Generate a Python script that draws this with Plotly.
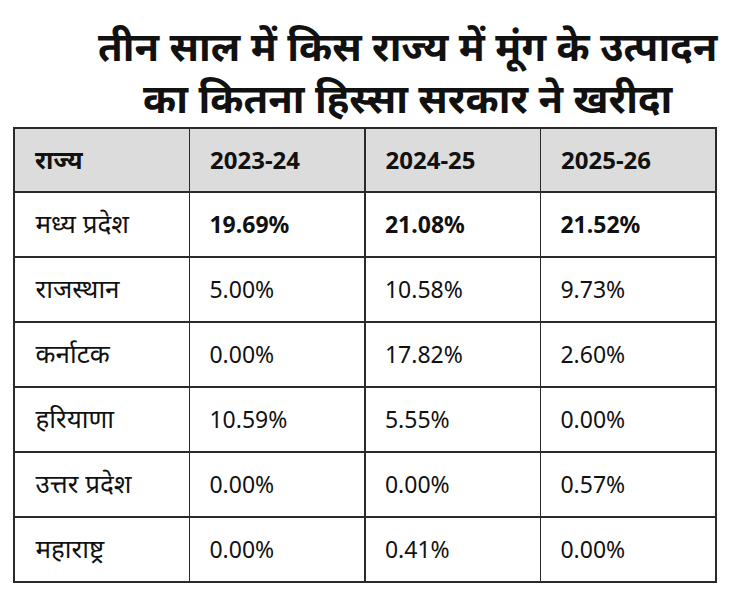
import plotly.graph_objects as go

# title and table contents
title_lines = ["तीन साल में किस राज्य में मूंग के उत्पादन", "का कितना हिस्सा सरकार ने खरीदा"]
headers = ["राज्य", "2023-24", "2024-25", "2025-26"]
states = ["मध्य प्रदेश", "राजस्थान", "कर्नाटक", "हरियाणा", "उत्तर प्रदेश", "महाराष्ट्र"]
share_2023_24 = [19.69, 5.00, 0.00, 10.59, 0.00, 0.00]
share_2024_25 = [21.08, 10.58, 17.82, 5.55, 0.00, 0.41]
share_2025_26 = [21.52, 9.73, 2.60, 0.00, 0.57, 0.00]

# the page body has an 8px margin, so everything is placed 8px up/left
OFF = 8
pad = "\u00a0\u00a0"


# table cells are top aligned: a blank first line on a small trace font
# pushes the real (span sized) text down to the middle of the row
def cell(text, size, bold=False):
    if bold:
        text = f"<b>{text}</b>"
    return f'\u00a0<br><span style="font-size:{size}px">{pad}{text}</span>'


def fmt(vals):
    return [cell(f"{v:.2f}%", 23, bold=(i == 0)) for i, v in enumerate(vals)]


fig = go.Figure(go.Table(
    domain=dict(x=[(14 - OFF) / 730, (716 - OFF) / 730],
                y=[1 - (586 - OFF) / 600, 1 - (128 - OFF) / 600]),
    columnwidth=[1, 1, 1, 1],
    header=dict(
        values=[cell(headers[0], 25, bold=True)] + [cell(h, 24, bold=True) for h in headers[1:]],
        fill_color="#dcdcdc",
        line=dict(color="#2a2a2a", width=1.5),
        align="left",
        height=64,
        font=dict(family="Noto Sans", size=14, color="#111111"),
    ),
    cells=dict(
        values=[[cell(s, 26) for s in states], fmt(share_2023_24), fmt(share_2024_25), fmt(share_2025_26)],
        fill_color="white",
        line=dict(color="#2a2a2a", width=1.5),
        align="left",
        height=65,
        font=dict(family="Noto Sans", size=14, color="#111111"),
    ),
))

fig.update_layout(
    width=730, height=600,
    margin=dict(l=0, r=0, t=0, b=0),
    paper_bgcolor="white",
    annotations=[dict(
        text="<b>" + "<br>".join(title_lines) + "</b>",
        x=(408 - OFF) / 730, y=1 - (16 - OFF) / 600, xref="paper", yref="paper",
        xanchor="center", yanchor="top", showarrow=False,
        font=dict(family="Noto Sans", size=40, color="#111111"),
    )],
)

fig.write_html("out.html")
